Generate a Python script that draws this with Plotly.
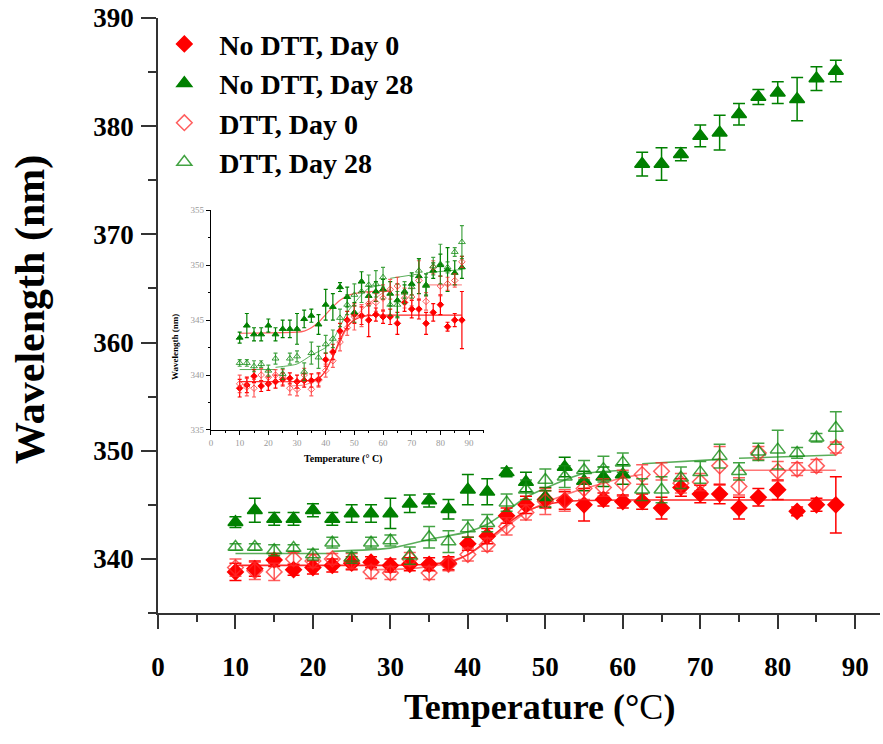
import plotly.graph_objects as go

# ---------------- data ----------------
temps = [10, 12.5, 15, 17.5, 20, 22.5, 25, 27.5, 30, 32.5, 35, 37.5, 40, 42.5, 45, 47.5,
         50, 52.5, 55, 57.5, 60, 62.5, 65, 67.5, 70, 72.5, 75, 77.5, 80, 82.5, 85, 87.5]

nodtt_day0 = [338.8, 339.1, 339.9, 339.0, 339.2, 339.4, 339.6, 339.7, 339.4, 339.5, 339.5, 339.6,
              341.4, 342.1, 344.0, 345.0, 345.5, 345.4, 345.0, 345.5, 345.3, 345.3, 344.7, 346.6,
              346.0, 346.0, 344.7, 345.7, 346.4, 344.4, 345.0, 345.0]
nodtt_day0_err = [0.8, 0.7, 0.6, 0.5, 0.6, 0.6, 0.6, 0.5, 0.6, 0.6, 0.6, 0.6, 0.6, 0.7, 0.7, 0.8,
                  0.8, 0.8, 1.5, 0.6, 0.6, 0.7, 1.0, 0.8, 0.8, 0.9, 1.0, 0.8, 0.9, 0.4, 0.6, 2.6]

nodtt_day28 = [343.4, 344.5, 343.7, 343.7, 344.5, 343.7, 344.2, 344.2, 344.2, 345.1, 345.4, 344.6,
               346.4, 346.2, 348.0, 347.1, 345.7, 348.5, 347.2, 347.6, 347.8, 376.5, 376.5, 377.4,
               379.1, 379.4, 381.1, 382.7, 383.1, 382.5, 384.4, 385.1]
nodtt_day28_err = [0.5, 1.1, 0.6, 0.6, 0.6, 0.6, 0.8, 0.8, 1.4, 0.8, 0.6, 0.9, 1.4, 1.2, 0.4, 0.9,
                   0.9, 0.9, 0.9, 0.9, 0.9, 1.1, 1.5, 0.6, 1.0, 1.6, 1.0, 0.7, 1.0, 2.0, 1.1, 1.0]
# inset version of No DTT, Day 28 (high-temperature points stay near 347-350 there)
inset_nodtt_day28 = [343.4, 344.5, 343.7, 343.7, 344.5, 343.7, 344.2, 344.2, 344.2, 345.1, 345.4, 344.6,
                     346.4, 346.2, 348.0, 347.1, 345.7, 348.5, 347.2, 347.6, 347.8, 347.4, 346.8, 347.6,
                     348.3, 349.0, 348.2, 349.5, 350.0, 349.6, 349.3, 349.8]

dtt_day0 = [339.2, 338.9, 338.8, 340.0, 339.8, 340.0, 339.8, 338.8, 338.7, 340.0, 338.7, 339.5,
            340.4, 341.3, 343.0, 344.3, 345.3, 345.4, 346.5, 346.6, 347.0, 347.8, 348.1, 347.0,
            347.1, 348.6, 346.7, 349.8, 348.1, 348.3, 348.6, 350.3]
dtt_day0_err = [0.8, 0.8, 0.8, 0.6, 0.6, 0.5, 0.7, 0.6, 0.6, 0.6, 0.6, 0.6, 0.6, 0.6, 0.8, 0.7,
                1.2, 1.0, 1.0, 0.8, 1.2, 0.9, 0.8, 0.9, 0.8, 1.8, 0.8, 0.6, 0.9, 0.6, 0.6, 0.5]

dtt_day28 = [341.1, 341.1, 340.8, 341.0, 340.4, 341.5, 340.1, 341.5, 341.7, 340.3, 342.0, 341.6,
             342.8, 343.3, 345.2, 346.4, 347.3, 347.6, 348.2, 348.3, 348.9, 346.4, 346.4, 347.5,
             348.0, 349.5, 348.1, 349.9, 350.1, 349.8, 351.2, 352.1]
dtt_day28_err = [0.3, 0.3, 0.5, 0.3, 0.5, 0.5, 0.5, 0.5, 0.5, 0.8, 1.0, 1.0, 0.8, 0.8, 0.8, 0.9,
                 1.0, 1.0, 0.9, 1.2, 0.9, 1.0, 1.2, 1.0, 1.0, 1.1, 0.8, 0.8, 1.8, 0.5, 0.4, 1.5]

# fitted curves
fit_nodtt0_t = [10, 30, 35, 37.5, 40, 42.5, 45, 47.5, 50, 52.5, 55, 60, 87.5]
fit_nodtt0_v = [339.4, 339.4, 339.5, 339.7, 340.4, 341.7, 343.2, 344.4, 345.0, 345.3, 345.4, 345.45, 345.45]

fit_dtt0_t = [27.5, 32.5, 37.5, 40, 42.5, 45, 47.5, 50, 52.5, 55, 57.5, 60, 62.5, None, 75, 87.5]
fit_dtt0_v = [339.0, 339.1, 339.6, 340.4, 341.6, 343.0, 344.3, 345.2, 345.9, 346.5, 347.0, 347.5, 347.8, None, 348.2, 348.2]

fit_dtt28_t = [10, 22.5, None, 22.5, 30, 35, 40, 42.5, 45, 47.5, 52.5, 55, 60, None, 62.5, 72.5, None, 75, 87.5]
fit_dtt28_v = [340.5, 340.5, None, 340.7, 341.0, 341.8, 342.5, 343.2, 344.4, 345.7, 347.3, 347.9, 348.2, None,
               348.8, 349.2, None, 349.3, 349.6]

fit_nodtt28_t = [10, 30, 32.5, 35, 37.5, 40, 42.5, 45, 47.5, 50, 55, 62.5]
fit_nodtt28_v = [343.8, 343.9, 344.0, 344.3, 344.8, 345.5, 346.2, 346.8, 347.2, 347.4, 347.6, 347.6]

legend_names = ["No DTT, Day 0", "No DTT, Day 28", "DTT, Day 0", "DTT, Day 28"]
x_ticks = [0, 10, 20, 30, 40, 50, 60, 70, 80, 90]
y_ticks = [340, 350, 360, 370, 380, 390]
inset_y_ticks = [335, 340, 345, 350, 355]

# ---------------- styling ----------------
RED = "#FF0000"
GREEN = "#008000"
RED_L = "rgba(255,40,40,0.75)"
GREEN_L = "rgba(20,140,20,0.8)"
SERIF = "Liberation Serif"

fig = go.Figure()

def add_series(y, err, name, symbol, color, size, xa, ya, legend, lw=1.5, capw=6, thick=1.5):
    fig.add_trace(go.Scatter(
        x=temps, y=y, mode="markers", name="<b>%s</b>" % name,
        marker=dict(symbol=symbol, size=size, color=color,
                    line=dict(color=color, width=lw)),
        error_y=dict(type="data", array=err, visible=True, color=color,
                     thickness=thick, width=capw),
        xaxis=xa, yaxis=ya, showlegend=legend))

def add_line(t, v, color, xa, ya, w=1.6):
    fig.add_trace(go.Scatter(x=t, y=v, mode="lines", line=dict(color=color, width=w, shape="spline",
                                                               smoothing=0.6),
                             connectgaps=False, showlegend=False, hoverinfo="skip",
                             xaxis=xa, yaxis=ya))

# main fits
add_line(fit_nodtt0_t, fit_nodtt0_v, "rgba(255,0,0,0.85)", "x", "y")
add_line(fit_dtt0_t, fit_dtt0_v, "rgba(255,60,60,0.7)", "x", "y")
add_line(fit_dtt28_t, fit_dtt28_v, "rgba(20,140,20,0.7)", "x", "y")

# main series
add_series(nodtt_day0, nodtt_day0_err, legend_names[0], "diamond", RED, 12, "x", "y", True)
add_series(nodtt_day28, nodtt_day28_err, legend_names[1], "triangle-up", GREEN, 13, "x", "y", True)
add_series(dtt_day0, dtt_day0_err, legend_names[2], "diamond-open", RED_L, 12, "x", "y", True)
add_series(dtt_day28, dtt_day28_err, legend_names[3], "triangle-up-open", GREEN_L, 13, "x", "y", True)

# inset fits
add_line(fit_nodtt0_t, fit_nodtt0_v, "rgba(255,0,0,0.85)", "x2", "y2", 1.2)
add_line(fit_nodtt28_t, fit_nodtt28_v, "rgba(255,40,40,0.75)", "x2", "y2", 1.2)
add_line(fit_dtt0_t, fit_dtt0_v, "rgba(255,60,60,0.7)", "x2", "y2", 1.0)
add_line(fit_dtt28_t, fit_dtt28_v, "rgba(20,140,20,0.7)", "x2", "y2", 1.0)

# inset series
add_series(nodtt_day0, nodtt_day0_err, legend_names[0], "diamond", RED, 5, "x2", "y2", False, 1, 2, 1.2)
add_series(inset_nodtt_day28, nodtt_day28_err, legend_names[1], "triangle-up", GREEN, 6, "x2", "y2", False, 1, 2, 1.2)
add_series(dtt_day0, dtt_day0_err, legend_names[2], "diamond-open", RED_L, 5, "x2", "y2", False, 1, 2, 1.2)
add_series(dtt_day28, dtt_day28_err, legend_names[3], "triangle-up-open", GREEN_L, 6, "x2", "y2", False, 1, 2, 1.2)

AX = "#333333"
fig.update_layout(
    width=883, height=744, autosize=False,
    margin=dict(l=158, r=3, t=18, b=131),
    paper_bgcolor="white", plot_bgcolor="white",
    font=dict(family=SERIF, color="black"),
    xaxis=dict(range=[0, 93.2], tickvals=x_ticks, showline=True, linecolor=AX, linewidth=1.5,
               ticks="outside", ticklen=14, tickwidth=1.5, tickcolor=AX,
               minor=dict(dtick=5, tick0=0, ticks="outside", ticklen=7, tickwidth=1.5, tickcolor=AX),
               showgrid=False, zeroline=False, ticklabelstandoff=15,
               tickfont=dict(family=SERIF, size=27, weight="bold", color="black")),
    yaxis=dict(range=[335, 390], tickvals=y_ticks, showline=True, linecolor=AX, linewidth=1.5,
               ticks="outside", ticklen=15, tickwidth=1.5, tickcolor=AX,
               minor=dict(dtick=5, tick0=335, ticks="outside", ticklen=8, tickwidth=1.5, tickcolor=AX),
               showgrid=False, zeroline=False, ticklabelstandoff=2,
               tickfont=dict(family=SERIF, size=27, weight="bold", color="black")),
    xaxis2=dict(domain=[0.0734, 0.4515], anchor="y2", range=[0, 95.2], tickvals=x_ticks,
                showline=True, linecolor="black", linewidth=1.3, ticks="outside", ticklen=4,
                tickwidth=1, tickcolor="black",
                minor=dict(dtick=5, tick0=0, ticks="outside", ticklen=2, tickwidth=1, tickcolor="black"),
                showgrid=False, zeroline=False,
                tickfont=dict(family=SERIF, size=9, color="#999999")),
    yaxis2=dict(domain=[0.3076, 0.677], anchor="x2", range=[335, 355], tickvals=inset_y_ticks,
                showline=True, linecolor="black", linewidth=1.3, ticks="outside", ticklen=4,
                tickwidth=1, tickcolor="black",
                minor=dict(dtick=2.5, tick0=335, ticks="outside", ticklen=2, tickwidth=1, tickcolor="black"),
                showgrid=False, zeroline=False,
                tickfont=dict(family=SERIF, size=9, color="#999999")),
    legend=dict(x=-0.012, y=0.998, xanchor="left", yanchor="top", bgcolor="rgba(0,0,0,0)",
                font=dict(family=SERIF, size=28, color="black"), itemwidth=60,
                tracegroupgap=0),
    annotations=[
        dict(text="<b>Wavelength (nm)</b>", xref="paper", yref="paper", x=-0.176, y=0.511,
             textangle=-90, showarrow=False, xanchor="center", yanchor="middle",
             font=dict(family=SERIF, size=42, color="black")),
        dict(text="<b>Temperature (°</b>C<b>)</b>", xref="paper", yref="paper", x=0.529, y=-0.158,
             showarrow=False, xanchor="center", yanchor="middle",
             font=dict(family=SERIF, size=36, color="black")),
        dict(text="<b>Wavelength (nm)</b>", xref="paper", yref="paper", x=0.0235, y=0.447,
             textangle=-90, showarrow=False, xanchor="center", yanchor="middle",
             font=dict(family=SERIF, size=9, color="black")),
        dict(text="<b>Temperature (° C)</b>", xref="paper", yref="paper", x=0.256, y=0.259,
             showarrow=False, xanchor="center", yanchor="middle",
             font=dict(family=SERIF, size=10, color="black")),
    ],
)

fig.write_html("out.html")
